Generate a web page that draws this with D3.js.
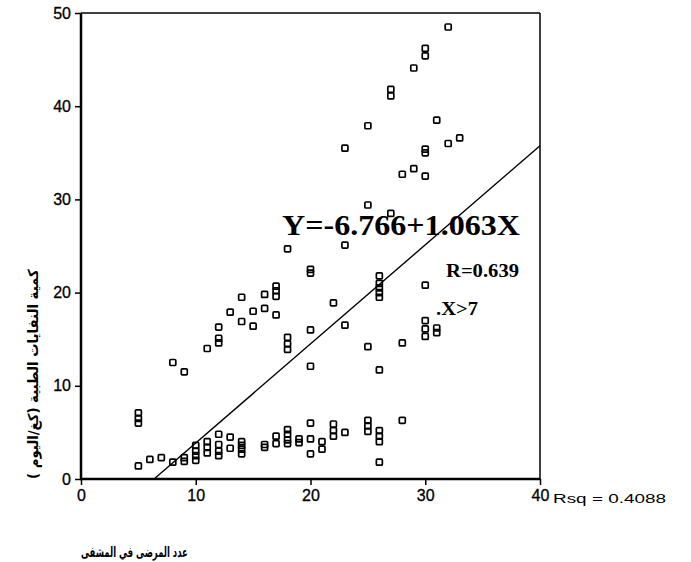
<!DOCTYPE html>
<html lang="ar">
<head>
    <meta charset="UTF-8">
    <title>Scatter: patients vs medical waste</title>
    <script src="https://cdnjs.cloudflare.com/ajax/libs/d3/7.8.5/d3.min.js"></script>
    <style>
        body { margin: 0; background: #fff; }
        .tick text { font-family: "Liberation Sans", Arial, sans-serif; font-size: 16px; fill: #000; stroke: #000; stroke-width: 0.3; }
        .tick line { stroke: #000; stroke-width: 1.5; }
        .domain { display: none; }
        .pt { fill: none; stroke: #000; stroke-width: 1.7; }
        .fit { stroke: #000; stroke-width: 1.4; fill: none; }
        .eq { font-family: "Liberation Serif", "Times New Roman", serif; font-weight: bold; fill: #000; }
    </style>
</head>
<body>
<div id="chart"></div>
<script>
// number of patients in hospital (x) and medical waste kg/day (y)
const patients = [
    5, 6, 7, 8, 9, 9, 10, 10, 10, 10, 11, 11, 11, 12, 12, 12, 12, 13, 13,
    14, 14, 14, 14, 16, 16, 17, 17, 18, 18, 18, 18, 19, 19, 20, 20, 20,
    21, 21, 22, 22, 22, 23, 25, 25, 25, 26, 26, 26, 26, 28,
    5, 5, 5,
    8, 9, 11, 12, 12, 12, 13, 14, 14, 15, 15, 16, 16, 17, 17, 17, 17,
    18, 18, 18, 18, 20, 20, 20, 20, 22, 23, 23, 23, 25, 25, 25,
    26, 26, 26, 26, 26, 26, 27, 27, 27, 28, 28, 29, 29, 30, 30, 30, 30,
    30, 30, 30, 30, 30, 31, 31, 31, 32, 32, 33
];
const waste = [
    1.4, 2.1, 2.3, 1.8, 2.3, 1.9, 3.6, 3.0, 2.5, 2.0, 4.0, 3.4, 2.8, 4.8, 3.7, 3.0, 2.5, 4.5, 3.3,
    4.0, 3.6, 3.2, 2.7, 3.7, 3.4, 4.6, 3.8, 5.3, 4.8, 4.2, 3.8, 4.3, 3.9, 6.0, 4.3, 2.7,
    4.0, 3.2, 5.9, 5.2, 4.6, 5.0, 6.3, 5.7, 5.1, 5.2, 4.6, 4.0, 1.8, 6.3,
    7.1, 6.5, 6.0,
    12.5, 11.5, 14.0, 16.3, 15.1, 14.6, 17.9, 19.5, 16.9, 18.0, 16.4, 19.8, 18.3, 20.7, 20.2, 19.6, 17.6,
    24.7, 15.2, 14.5, 13.9, 22.5, 22.1, 16.0, 12.1, 18.9, 35.5, 25.1, 16.5, 37.9, 29.4, 14.2,
    21.8, 21.0, 20.5, 20.0, 19.5, 11.7, 41.8, 41.1, 28.5, 32.7, 14.6, 44.1, 33.3, 46.2, 45.4, 35.4, 35.0,
    32.5, 20.8, 17.0, 16.1, 15.3, 38.5, 16.2, 15.7, 48.5, 36.0, 36.6
];
const xTicks = [0, 10, 20, 30, 40];
const yTicks = [0, 10, 20, 30, 40, 50];
const fitIntercept = -6.766;
const fitSlope = 1.063;
const eqLabel = "Y=-6.766+1.063X";
const rLabel = "R=0.639";
const condLabel = ".X>7";
const rsqLabel = "Rsq = 0.4088";
const xTitle = "عدد المرضى في المشفى";
const yTitle = "كمية النفايات الطبية (كغ/اليوم )";

const W = 691, H = 562;
const plot = {left: 81, right: 540, top: 13, bottom: 479};

const svg = d3.select("#chart").append("svg")
    .attr("width", W).attr("height", H)
    .style("background", "#fff");

const x = d3.scaleLinear().domain([0, 40]).range([plot.left, plot.right]);
const y = d3.scaleLinear().domain([0, 50]).range([plot.bottom, plot.top]);

// axes (ticks + labels only, frame drawn separately)
svg.append("g")
    .attr("transform", `translate(0,${plot.bottom})`)
    .call(d3.axisBottom(x).tickValues(xTicks).tickSize(6).tickPadding(5).tickFormat(d3.format("d")));

svg.append("g")
    .attr("transform", `translate(${plot.left},0)`)
    .call(d3.axisLeft(y).tickValues(yTicks).tickSize(6).tickPadding(4).tickFormat(d3.format("d")));

// frame
svg.append("line").attr("x1", plot.left).attr("x2", plot.right).attr("y1", plot.top).attr("y2", plot.top)
    .attr("stroke", "#000").attr("stroke-width", 1.5);
svg.append("line").attr("x1", plot.right).attr("x2", plot.right).attr("y1", plot.top).attr("y2", plot.bottom)
    .attr("stroke", "#000").attr("stroke-width", 1.5);
svg.append("line").attr("x1", plot.left).attr("x2", plot.left).attr("y1", plot.top).attr("y2", plot.bottom + 1)
    .attr("stroke", "#000").attr("stroke-width", 2.5);
svg.append("line").attr("x1", plot.left - 1).attr("x2", plot.right).attr("y1", plot.bottom).attr("y2", plot.bottom)
    .attr("stroke", "#000").attr("stroke-width", 2.5);

// regression line, from where it crosses y=0 to the right edge
const x0 = -fitIntercept / fitSlope;
svg.append("line").attr("class", "fit")
    .attr("x1", x(x0)).attr("y1", y(0))
    .attr("x2", x(40)).attr("y2", y(fitIntercept + fitSlope * 40));

// points
const pts = patients.map((p, i) => ({p: p, w: waste[i]}));
const s = 6;
svg.selectAll(".pt").data(pts).enter().append("rect")
    .attr("class", "pt")
    .attr("x", d => x(d.p) - s / 2)
    .attr("y", d => y(d.w) - s / 2)
    .attr("width", s).attr("height", s)
    .attr("rx", 1);

// annotations
svg.append("text").attr("class", "eq")
    .attr("x", 282).attr("y", 235)
    .attr("font-size", 30)
    .attr("textLength", 238).attr("lengthAdjust", "spacingAndGlyphs")
    .text(eqLabel);

svg.append("text").attr("class", "eq")
    .attr("x", 446).attr("y", 277)
    .attr("font-size", 18)
    .attr("textLength", 73).attr("lengthAdjust", "spacingAndGlyphs")
    .text(rLabel);

svg.append("text").attr("class", "eq")
    .attr("x", 436).attr("y", 315)
    .attr("font-size", 18)
    .attr("textLength", 42).attr("lengthAdjust", "spacingAndGlyphs")
    .text(condLabel);

svg.append("text")
    .attr("x", 553).attr("y", 503)
    .attr("font-family", "Liberation Sans, Arial, sans-serif")
    .attr("font-size", 12)
    .attr("textLength", 113).attr("lengthAdjust", "spacingAndGlyphs")
    .text(rsqLabel);

// axis titles (Arabic), squeezed horizontally to the width seen in the scan
const xt = svg.append("text")
    .attr("font-family", "DejaVu Sans, sans-serif")
    .attr("font-size", 14).attr("font-weight", "bold")
    .text(xTitle);
const xtLen = xt.node().getComputedTextLength();
xt.attr("transform", `translate(81,557) scale(${107 / xtLen},1)`);

// left-to-right mark so the closing bracket lands at the top end, as in the scan
const yt = svg.append("text")
    .attr("font-family", "DejaVu Sans, sans-serif")
    .attr("font-size", 14).attr("font-weight", "bold")
    .text("\u200E" + yTitle);
const ytLen = yt.node().getComputedTextLength();
yt.attr("transform", `translate(38,479) rotate(-90) scale(${210 / ytLen},1)`);
</script>
</body>
</html>
